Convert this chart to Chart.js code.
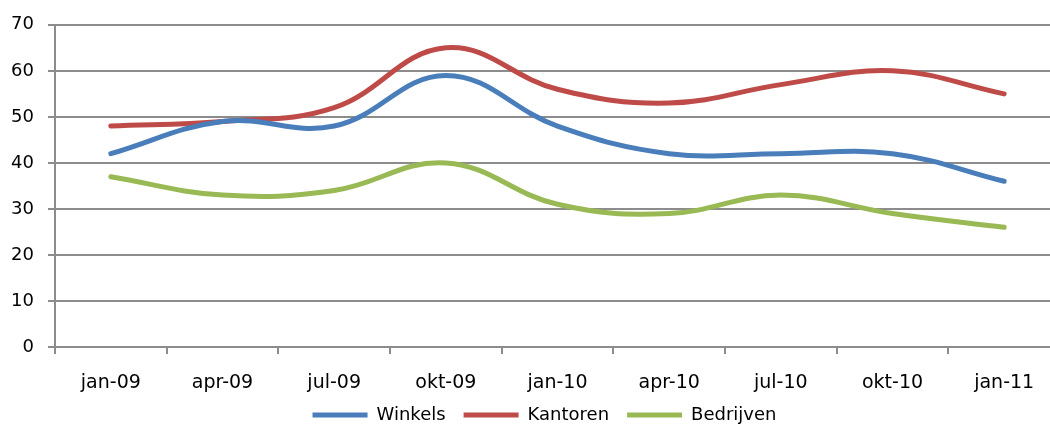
<!DOCTYPE html>
<html>
<head>
<meta charset="utf-8">
<script src="https://cdn.jsdelivr.net/npm/chart.js@4/dist/chart.umd.min.js"></script>
<style>
  html, body { margin: 0; padding: 0; background: #fff; overflow: hidden; }
  #wrap { position: relative; width: 1062px; height: 425px; }
</style>
</head>
<body>
<div id="wrap"><canvas id="c"></canvas></div>
<script>
// Quarterly index per property type
const categories = ['jan-09', 'apr-09', 'jul-09', 'okt-09', 'jan-10', 'apr-10', 'jul-10', 'okt-10', 'jan-11'];
const winkels   = [42, 49, 48, 59, 48, 42, 42, 42, 36];
const kantoren  = [48, 49, 52, 65, 56, 53, 57, 60, 55];
const bedrijven = [37, 33, 34, 40, 31, 29, 33, 29, 26];
const yTicks = [0, 10, 20, 30, 40, 50, 60, 70];

const FONT = 'DejaVu Sans';
const GRID = '#8c8c8c';

// centre the legend under the plot area and tuck it up against the axis labels
const legendShift = {
  id: 'legendShift',
  afterLayout(chart) {
    const lg = chart.legend;
    if (lg) {
      lg.left += chart.chartArea.left - 26;
      lg.top -= 7;
      lg.bottom -= 7;
    }
  }
};

function series(label, data, color) {
  return {
    label, data,
    borderColor: color,
    backgroundColor: color,
    borderWidth: 5,
    pointRadius: 0,
    tension: 0.4,
    borderCapStyle: 'round',
    fill: false
  };
}

new Chart(document.getElementById('c'), {
  type: 'line',
  plugins: [legendShift],
  data: {
    labels: categories,
    datasets: [
      series('Winkels', winkels, '#4a7ebb'),
      series('Kantoren', kantoren, '#be4b48'),
      series('Bedrijven', bedrijven, '#98b954')
    ]
  },
  options: {
    responsive: true,
    maintainAspectRatio: false,
    animation: false,
    layout: { padding: { top: 10, right: 2, left: 0, bottom: -16 } },
    plugins: {
      tooltip: { enabled: false },
      legend: {
        position: 'bottom',
        labels: {
          color: '#000',
          font: { family: FONT, size: 18 },
          boxWidth: 55,
          boxHeight: 5,
          padding: 18,
          generateLabels(chart) {
            return chart.data.datasets.map((ds, i) => ({
              text: ds.label,
              fillStyle: ds.borderColor,
              strokeStyle: ds.borderColor,
              lineWidth: 0,
              hidden: false,
              datasetIndex: i,
              fontColor: '#000'
            }));
          }
        }
      }
    },
    scales: {
      x: {
        offset: true,
        afterFit(scale) { scale.height = 48; },
        grid: {
          offset: true,
          drawOnChartArea: false,
          drawTicks: true,
          tickLength: 7,
          color: GRID,
          lineWidth: 2
        },
        border: { color: GRID, width: 2 },
        ticks: {
          color: '#000',
          font: { family: FONT, size: 19 },
          padding: 18,
          maxRotation: 0,
          autoSkip: false
        }
      },
      y: {
        min: 0,
        max: 70,
        afterBuildTicks(scale) { scale.ticks = yTicks.map(v => ({ value: v })); },
        afterFit(scale) { scale.width = 55; },
        grid: {
          color: GRID,
          lineWidth: 2,
          tickLength: 7
        },
        border: { color: GRID, width: 2 },
        ticks: {
          color: '#000',
          font: { family: FONT, size: 18 },
          padding: 14
        }
      }
    }
  }
});
</script>
</body>
</html>
